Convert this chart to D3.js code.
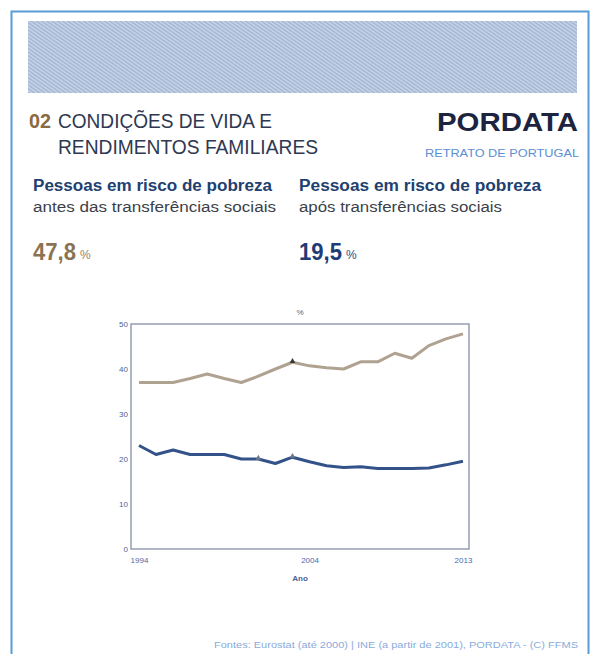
<!DOCTYPE html>
<html>
<head>
<meta charset="utf-8">
<script src="https://cdn.jsdelivr.net/npm/d3@7"></script>
<style>
  html, body { margin: 0; padding: 0; background: #fff; }
  svg { display: block; }
</style>
</head>
<body>
<svg id="chart" width="590" height="654"></svg>
<script>
// ---------- DATA ----------
const years = [1994,1995,1996,1997,1998,1999,2000,2001,2002,2003,2004,2005,2006,2007,2008,2009,2010,2011,2012,2013];
const beforeTransfers = [37.0,37.0,37.0,37.9,38.9,37.9,37.0,38.4,40.0,41.5,40.7,40.3,40.0,41.6,41.6,43.5,42.4,45.2,46.7,47.8];
const afterTransfers  = [23.0,21.0,22.0,21.0,21.0,21.0,20.0,20.0,19.0,20.4,19.4,18.5,18.1,18.3,17.9,17.9,17.9,18.0,18.7,19.5];
const breakYearsBefore = [2003];
const breakYearsAfter = [2001, 2003];
const yTicks = [0,10,20,30,40,50];
const xTickLabels = [1994, 2004, 2013];

const svg = d3.select("#chart");
const FONT = "'Liberation Sans Narrow','Liberation Sans',Arial,sans-serif";

// ---------- FRAME / HEADER ----------
const defs = svg.append("defs");
const pat = defs.append("pattern").attr("id","hatch").attr("patternUnits","userSpaceOnUse")
  .attr("width",3).attr("height",3).attr("patternTransform","rotate(-55)");
pat.append("rect").attr("width",3).attr("height",3).attr("fill","#c6d3e6");
pat.append("rect").attr("width",1.2).attr("height",3).attr("fill","#9cb1d0");

svg.append("rect").attr("x",11.5).attr("y",11.5).attr("width",577).attr("height",700)
  .attr("fill","#fff").attr("stroke","#5b9bd5").attr("stroke-width",2);
svg.append("rect").attr("x",28).attr("y",21).attr("width",549).attr("height",72)
  .attr("fill","url(#hatch)");

function txt(s, x, y, size, fill, opts={}) {
  const t = svg.append("text").attr("x",x).attr("y",y).text(s)
    .attr("font-family", opts.family || FONT)
    .attr("font-size", size).attr("fill", fill);
  if (opts.weight) t.attr("font-weight", opts.weight);
  if (opts.len) t.attr("textLength", opts.len).attr("lengthAdjust","spacingAndGlyphs");
  if (opts.anchor) t.attr("text-anchor", opts.anchor);
  return t;
}

txt("02", 29, 128, 20, "#8a6a3e", {len: 22, weight:"bold"});
txt("CONDIÇÕES DE VIDA E", 58, 128, 20.5, "#2e3852", {len: 214});
txt("RENDIMENTOS FAMILIARES", 58, 154, 20.5, "#2e3852", {len: 260});

txt("PORDATA", 437, 131, 26, "#1d2440", {weight:"bold", len: 141, family:"'Liberation Sans',Arial,sans-serif"});
txt("RETRATO DE PORTUGAL", 425, 157, 11.5, "#5d8fd3", {len: 154});

txt("Pessoas em risco de pobreza", 33, 191, 16, "#22406f", {weight:"bold", len: 239, family:"'Liberation Sans',Arial,sans-serif"});
txt("antes das transferências sociais", 33, 212, 15.5, "#3b3f48", {len: 243});
txt("47,8", 33, 260, 24, "#8b7352", {len: 43, weight:"bold"});
txt("%", 80, 259, 12, "#9a8468");

txt("Pessoas em risco de pobreza", 299, 191, 16, "#22406f", {weight:"bold", len: 242, family:"'Liberation Sans',Arial,sans-serif"});
txt("após transferências sociais", 299, 212, 15.5, "#3b3f48", {len: 203});
txt("19,5", 299, 260, 24, "#1f3c78", {len: 43, weight:"bold"});
txt("%", 346, 259, 12, "#2e4a82");

txt("Fontes:  Eurostat (até 2000) | INE (a partir de 2001), PORDATA - (C) FFMS", 214, 648, 9, "#8aabdb", {len: 364});

// ---------- CHART ----------
const plotL = 131, plotR = 469, plotT = 324, plotB = 549;
const x = d3.scaleLinear().domain([1994, 2013]).range([139, 463]);
const y = d3.scaleLinear().domain([0, 50]).range([plotB, plotT]);

svg.append("rect").attr("x",plotL).attr("y",plotT).attr("width",plotR-plotL).attr("height",plotB-plotT)
  .attr("fill","none").attr("stroke","#8f97ad").attr("stroke-width",1.4);

const yAxis = d3.axisLeft(y).tickValues(yTicks).tickSize(0).tickPadding(3);
const gy = svg.append("g").attr("transform",`translate(${plotL},0)`).call(yAxis);
gy.select(".domain").remove();
gy.selectAll("text").attr("font-family",FONT).attr("font-size",8).attr("fill","#4b5f95");

const xAxis = d3.axisBottom(x).tickValues(xTickLabels).tickSize(0).tickPadding(8).tickFormat(d3.format("d"));
const gx = svg.append("g").attr("transform",`translate(0,${plotB})`).call(xAxis);
gx.select(".domain").remove();
gx.selectAll("text").attr("font-family",FONT).attr("font-size",8).attr("fill","#4b6aa8");

txt("%", 300, 315, 8, "#4b5f95", {anchor:"middle"});
txt("Ano", 300, 581, 8, "#4b5f95", {anchor:"middle", weight:"bold"});

const line = d3.line().x((d,i) => x(years[i])).y(d => y(d));

svg.append("path").datum(beforeTransfers).attr("d", line)
  .attr("fill","none").attr("stroke","#b0a291").attr("stroke-width",3).attr("stroke-linejoin","round");
svg.append("path").datum(afterTransfers).attr("d", line)
  .attr("fill","none").attr("stroke","#34528a").attr("stroke-width",3).attr("stroke-linejoin","round");

const tri = d3.symbol().type(d3.symbolTriangle).size(14);
svg.selectAll(".mb").data(breakYearsBefore).join("path")
  .attr("transform", d => `translate(${x(d)},${y(beforeTransfers[years.indexOf(d)]) - 1})`)
  .attr("d", tri).attr("fill","#3a3a3a");
svg.selectAll(".ma").data(breakYearsAfter).join("path")
  .attr("transform", d => `translate(${x(d)},${y(afterTransfers[years.indexOf(d)]) - 1})`)
  .attr("d", tri).attr("fill","#6d7a8e");
</script>
</body>
</html>
